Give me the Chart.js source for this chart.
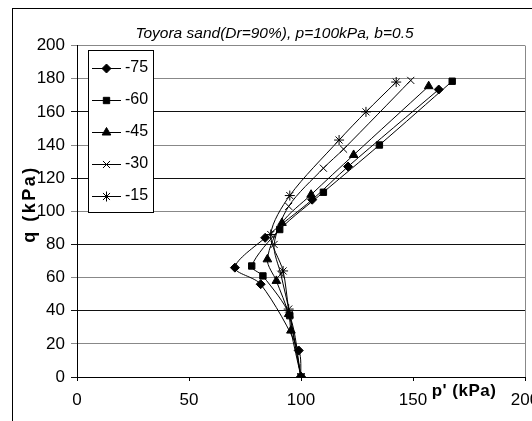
<!DOCTYPE html>
<html>
<head>
<meta charset="utf-8">
<script src="https://cdn.jsdelivr.net/npm/chart.js@4/dist/chart.umd.min.js"></script>
<style>
  html, body { margin: 0; padding: 0; background: #fff; overflow: hidden; }
  #frame { position: absolute; left: 12px; top: 8px; width: 700px; height: 600px; border: 1px solid #000; }
  #wrap { position: absolute; left: 0; top: 0; width: 532px; height: 421px; }
</style>
</head>
<body>
<div id="frame"></div>
<div id="wrap"><canvas id="stress-path" width="532" height="421"></canvas></div>
<script>
// Effective stress paths, p' vs q, one series per loading direction

const seriesLabels = ['-75', '-60', '-45', '-30', '-15'];
const markerStyles = ['rectRot', 'rect', 'triangle', 'crossRot', 'star'];

const p75 = [100, 99, 82, 70.5, 84, 105, 121, 161.5];
const q75 = [0, 16, 56, 66, 84, 107, 127, 173.5];

const p60 = [100, 95, 83, 78, 90.5, 110, 135, 167.5];
const q60 = [0, 37, 61, 67, 89, 111.5, 140, 178.5];

const p45 = [100, 95.5, 94.5, 89, 85, 91.5, 104.5, 123.5, 157];
const q45 = [0, 28, 38, 58, 71, 93, 110, 134, 175.5];

const p30 = [100, 95, 91, 88, 94.5, 110, 119, 149];
const q30 = [0, 38, 62, 80, 103, 126, 137.5, 179];

const p15 = [100, 94.5, 92, 86.5, 95, 117, 129, 142.5];
const q15 = [0, 41, 64, 86, 109.5, 143, 160, 178];

const pValues = [p75, p60, p45, p30, p15];
const qValues = [q75, q60, q45, q30, q15];

const chartTitle = "Toyora sand(Dr=90%), p=100kPa, b=0.5";
const xTitle = "p' (kPa)";
const yTitle = 'q (kPa)';

Chart.defaults.font.family = '"Liberation Sans", Arial, sans-serif';
Chart.defaults.color = '#000';

const datasets = seriesLabels.map((label, i) => ({
    label: label,
    data: pValues[i].map((p, j) => ({ x: p, y: qValues[i][j] })),
    showLine: true,
    borderColor: '#000',
    backgroundColor: '#000',
    borderWidth: 1,
    pointStyle: markerStyles[i],
    pointRadius: i < 2 ? 4.5 : 5,
    pointBorderWidth: 1,
    tension: 0.3
}));

// axis titles, legend box and plot edge drawn by hand
const extrasPlugin = {
    id: 'extras',
    afterDraw(chart) {
        const { ctx, chartArea } = chart;
        ctx.save();

        ctx.strokeStyle = '#888';
        ctx.lineWidth = 1;
        ctx.beginPath();
        ctx.moveTo(chartArea.right + 0.5, chartArea.top);
        ctx.lineTo(chartArea.right + 0.5, chartArea.bottom);
        ctx.stroke();

        // legend
        ctx.fillStyle = '#fff';
        ctx.fillRect(88, 50, 65, 162);
        ctx.strokeStyle = '#000';
        ctx.strokeRect(88.5, 50.5, 65, 162);
        chart.data.datasets.forEach((ds, i) => {
            const y = 68 + i * 32;
            ctx.strokeStyle = '#000';
            ctx.fillStyle = '#000';
            ctx.lineWidth = 1;
            ctx.beginPath();
            ctx.moveTo(92, y + 0.5);
            ctx.lineTo(121, y + 0.5);
            ctx.stroke();
            Chart.helpers.drawPoint(ctx, {
                pointStyle: ds.pointStyle,
                radius: ds.pointRadius,
                borderWidth: 1,
                rotation: 0
            }, 106.5, y + 0.5);
            ctx.font = '16px "Liberation Sans", Arial, sans-serif';
            ctx.textAlign = 'left';
            ctx.textBaseline = 'middle';
            ctx.fillText(ds.label, 125, y);
        });

        // y title
        ctx.fillStyle = '#000';
        ctx.font = 'bold 18px "Liberation Sans", Arial, sans-serif';
        ctx.letterSpacing = '2.5px';
        ctx.textAlign = 'center';
        ctx.textBaseline = 'middle';
        ctx.translate(30, 204);
        ctx.rotate(-Math.PI / 2);
        ctx.fillText(yTitle, 0, 0);
        ctx.restore();

        // x title
        ctx.save();
        ctx.fillStyle = '#000';
        ctx.font = 'bold 17px "Liberation Sans", Arial, sans-serif';
        ctx.letterSpacing = '0.5px';
        ctx.textAlign = 'center';
        ctx.textBaseline = 'middle';
        ctx.fillText(xTitle, chartArea.right - 61, chartArea.bottom + 14);
        ctx.restore();
    }
};

const ctx = document.getElementById('stress-path').getContext('2d');
const stressChart = new Chart(ctx, {
    type: 'scatter',
    data: { datasets: datasets },
    plugins: [extrasPlugin],
    options: {
        responsive: false,
        animation: false,
        devicePixelRatio: 1,
        layout: {
            padding: { left: 24, right: 7, top: 0, bottom: 10 }
        },
        plugins: {
            legend: { display: false },
            tooltip: { enabled: false },
            title: {
                display: true,
                text: chartTitle,
                color: '#000',
                font: { size: 15.5, style: 'italic', weight: 'normal' },
                padding: { top: 24, bottom: 3 }
            }
        },
        scales: {
            x: {
                type: 'linear',
                min: 0,
                max: 200,
                afterFit: function(scale) {
                    scale.paddingLeft = 0;
                    scale.paddingRight = 0;
                    scale.height = 34;
                },
                ticks: {
                    stepSize: 50,
                    padding: 9,
                    maxRotation: 0,
                    font: { size: 17 }
                },
                grid: {
                    drawOnChartArea: false,
                    drawTicks: true,
                    tickLength: 4,
                    color: '#000'
                },
                border: { color: '#000', width: 1 }
            },
            y: {
                type: 'linear',
                min: 0,
                max: 200,
                afterFit: function(scale) {
                    scale.width = 53;
                },
                ticks: {
                    stepSize: 20,
                    padding: 6,
                    font: { size: 17 }
                },
                grid: {
                    tickLength: 6,
                    color: function(c) {
                        const v = c.tick ? c.tick.value : 0;
                        return (v / 20) % 2 === 0 && v < 200 ? '#111' : '#888';
                    }
                },
                border: { color: '#000', width: 1 }
            }
        }
    }
});
</script>
</body>
</html>
